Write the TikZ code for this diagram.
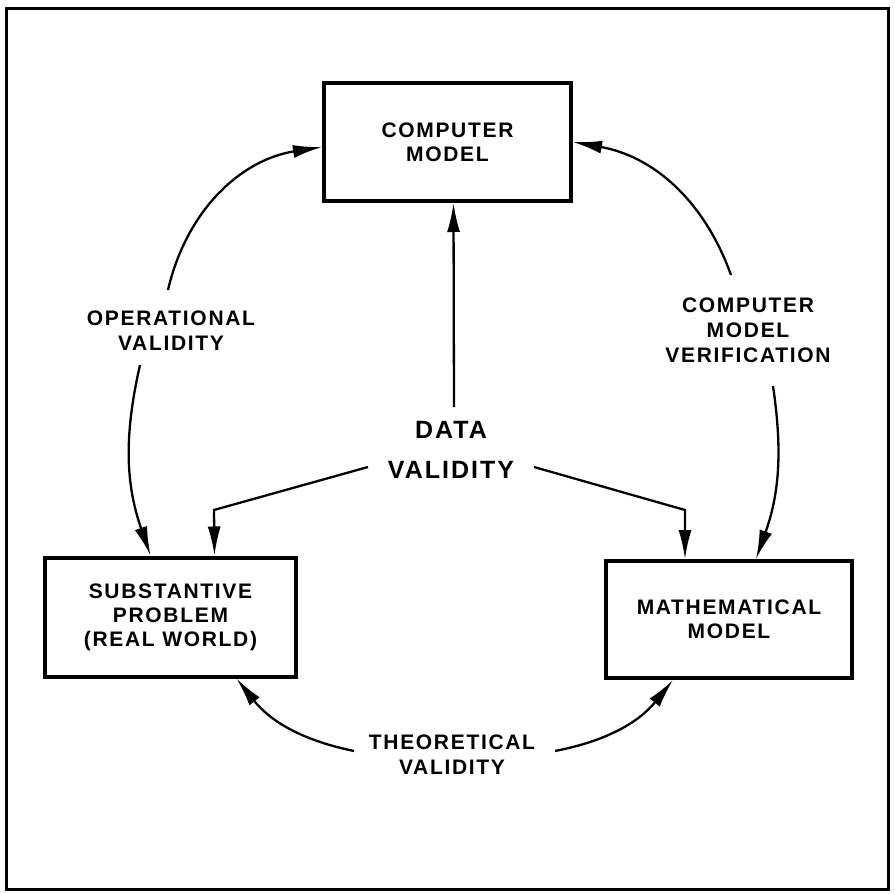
\documentclass[tikz,border=0pt]{standalone}
\usepackage{fontspec}
\setmainfont{Liberation Sans}[LetterSpace=8]
\usetikzlibrary{arrows.meta}

\begin{document}
\begin{tikzpicture}[
        x=1pt, y=1pt,
        box/.style={draw, line width=4pt, align=center, font=\bfseries\fontsize{21}{24}\selectfont},
        lbl/.style={align=center, font=\bfseries\fontsize{21}{25}\selectfont},
        big/.style={align=center, font=\bfseries\fontsize{25}{40}\selectfont},
        arr/.style={line width=2.3pt, -{Latex[length=29pt,width=13pt]}},
        ]
    \useasboundingbox (0,0) rectangle (895,-894);
    \draw[line width=3pt] (6,-8) rectangle (888,-889);

    % the three models
    \node[box, minimum width=247pt, minimum height=118pt] (comp) at (447.5,-142) {COMPUTER\\MODEL};
    \node[box, minimum width=251pt, minimum height=119pt] (subst) at (170.5,-617) {SUBSTANTIVE\\PROBLEM\\(REAL WORLD)};
    \node[box, minimum width=246pt, minimum height=117pt] (math) at (729,-619.5) {MATHEMATICAL\\MODEL};

    % labels
    \node[lbl] (opval) at (171,-331) {OPERATIONAL\\VALIDITY};
    \node[lbl] (cmv) at (748,-330) {COMPUTER\\MODEL\\VERIFICATION};
    \node[big] (data) at (451,-450) {DATA\\VALIDITY};
    \node[lbl] (theo) at (452,-755) {THEORETICAL\\VALIDITY};

    % free ends
    \coordinate (op1) at (168,-290);
    \coordinate (op2) at (140,-365);
    \coordinate (cv1) at (731,-275);
    \coordinate (cv2) at (773,-386);
    \coordinate (th1) at (354,-751);
    \coordinate (th2) at (555,-751);
    \coordinate (dup) at (454,-407);
    \coordinate (dl) at (368,-467);
    \coordinate (dlc) at (214,-510);
    \coordinate (dr) at (534,-467);
    \coordinate (drc) at (685,-510);

    \draw[arr] (op1) to[bend left=34] ([yshift=-5pt]comp.west);
    \draw[arr] (op2) to[bend right=16] ([xshift=-20pt]subst.north);
    \draw[arr] (cv1) to[bend right=30] (comp.east);
    \draw[arr] (cv2) to[bend left=14] ([xshift=27pt]math.north);
    \draw[arr] (th1) to[bend left=20] ([xshift=66pt]subst.south);
    \draw[arr] (th2) to[bend right=20] ([xshift=-56pt]math.south);

    \draw[arr] (dup) -- ([xshift=6pt]comp.south);
    \draw[arr] (dl) -- (dlc) -- ([xshift=44pt]subst.north);
    \draw[arr] (dr) -- (drc) -- ([xshift=-44pt]math.north);
\end{tikzpicture}
\end{document}
